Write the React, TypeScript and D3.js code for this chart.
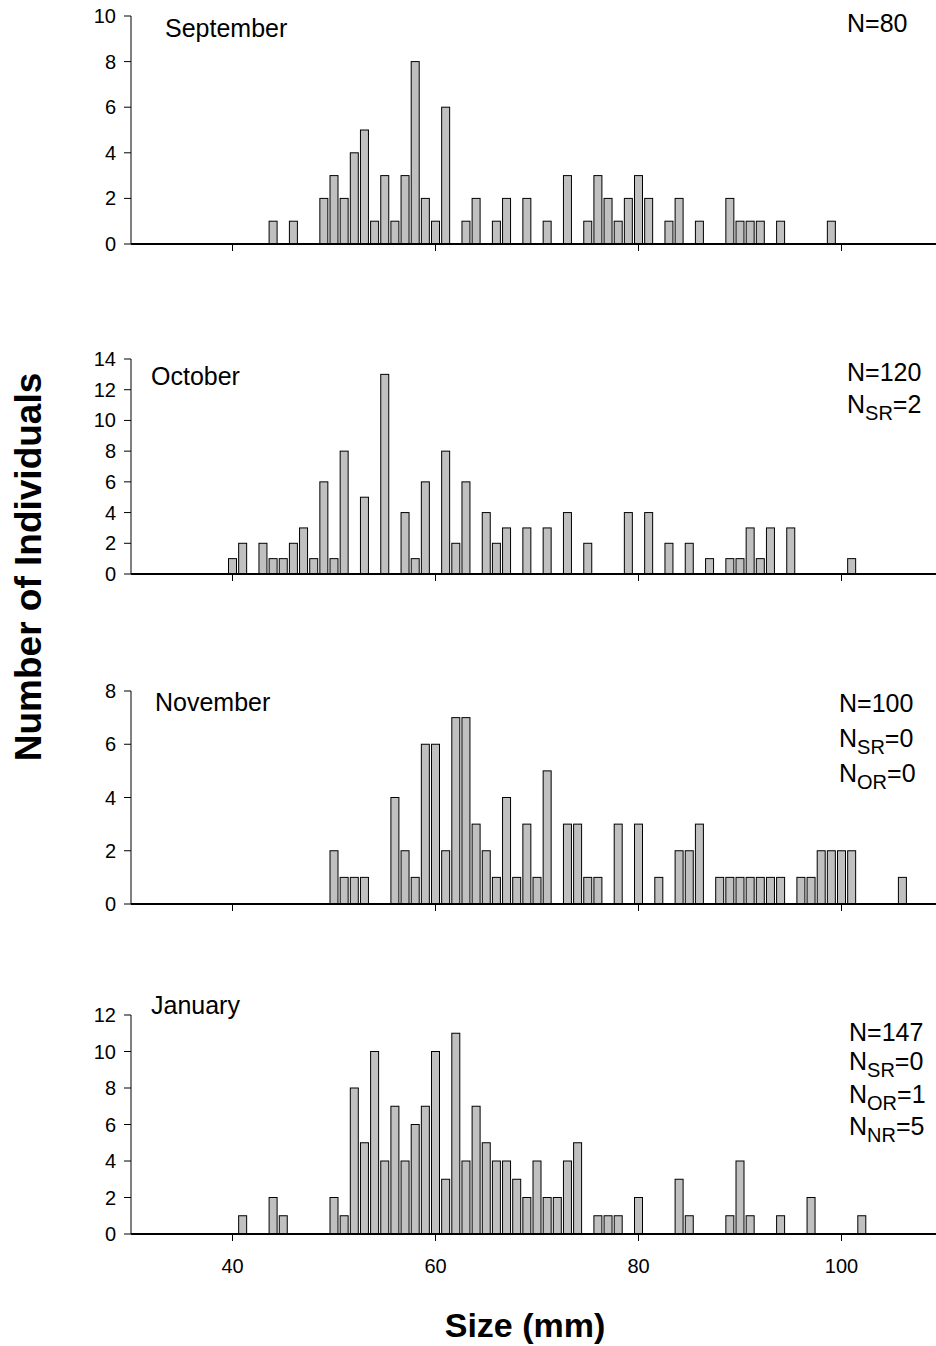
import * as d3 from 'd3'

// size classes (mm) and counts
const sepSizes = [44, 46, 49, 50, 51, 52, 53, 54, 55, 56, 57, 58, 59, 60, 61, 63, 64, 66, 67, 69, 71, 73, 75, 76, 77, 78, 79, 80, 81, 83, 84, 86, 89, 90, 91, 92, 94, 99]
const sepCounts = [1, 1, 2, 3, 2, 4, 5, 1, 3, 1, 3, 8, 2, 1, 6, 1, 2, 1, 2, 2, 1, 3, 1, 3, 2, 1, 2, 3, 2, 1, 2, 1, 2, 1, 1, 1, 1, 1]

const octSizes = [40, 41, 43, 44, 45, 46, 47, 48, 49, 50, 51, 53, 55, 57, 58, 59, 61, 62, 63, 65, 66, 67, 69, 71, 73, 75, 79, 81, 83, 85, 87, 89, 90, 91, 92, 93, 95, 101]
const octCounts = [1, 2, 2, 1, 1, 2, 3, 1, 6, 1, 8, 5, 13, 4, 1, 6, 8, 2, 6, 4, 2, 3, 3, 3, 4, 2, 4, 4, 2, 2, 1, 1, 1, 3, 1, 3, 3, 1]

const novSizes = [50, 51, 52, 53, 56, 57, 58, 59, 60, 61, 62, 63, 64, 65, 66, 67, 68, 69, 70, 71, 73, 74, 75, 76, 78, 80, 82, 84, 85, 86, 88, 89, 90, 91, 92, 93, 94, 96, 97, 98, 99, 100, 101, 106]
const novCounts = [2, 1, 1, 1, 4, 2, 1, 6, 6, 2, 7, 7, 3, 2, 1, 4, 1, 3, 1, 5, 3, 3, 1, 1, 3, 3, 1, 2, 2, 3, 1, 1, 1, 1, 1, 1, 1, 1, 1, 2, 2, 2, 2, 1]

const janSizes = [41, 44, 45, 50, 51, 52, 53, 54, 55, 56, 57, 58, 59, 60, 61, 62, 63, 64, 65, 66, 67, 68, 69, 70, 71, 72, 73, 74, 76, 77, 78, 80, 84, 85, 89, 90, 91, 94, 97, 102]
const janCounts = [1, 2, 1, 2, 1, 8, 5, 10, 4, 7, 4, 6, 7, 10, 3, 11, 4, 7, 5, 4, 4, 3, 2, 4, 2, 2, 4, 5, 1, 1, 1, 2, 3, 1, 1, 4, 1, 1, 2, 1]

const months = ['September', 'October', 'November', 'January']
const yMaxes = [10, 14, 8, 12]
const notes = [
  ['N=80'],
  ['N=120', 'N_SR=2'],
  ['N=100', 'N_SR=0', 'N_OR=0'],
  ['N=147', 'N_SR=0', 'N_OR=1', 'N_NR=5'],
]
const xTicks = [40, 60, 80, 100]

const FONT = 'Liberation Sans, Arial, Helvetica, sans-serif'
const WIDTH = 936
const HEIGHT = 1346

// pixel layout of the four stacked panels
const layout = [
  { top: 16, bottom: 244, labelY: 37, noteX: 847, noteY: [32] },
  { top: 359, bottom: 574, labelY: 385, noteX: 847, noteY: [381, 413] },
  { top: 691, bottom: 904, labelY: 711, noteX: 839, noteY: [712, 747, 782] },
  { top: 1015, bottom: 1234, labelY: 1014, noteX: 849, noteY: [1041, 1070, 1103, 1135] },
]
const labelXs = [165, 151, 155, 151]

const x = d3.scaleLinear().domain([30, 110]).range([131, 943])
const barW = 8

function Note({ text, x0, y0 }: { text: string; x0: number; y0: number }) {
  const m = text.match(/^N_(\w+)=(.*)$/)
  if (!m) {
    return <text x={x0} y={y0} fontSize={25}>{text}</text>
  }
  return (
    <text x={x0} y={y0} fontSize={25}>
      N
      <tspan fontSize={20} dy={7}>{m[1]}</tspan>
      <tspan fontSize={25} dy={-7}>={m[2]}</tspan>
    </text>
  )
}

function Panel({ i, sizes, counts }: { i: number; sizes: number[]; counts: number[] }) {
  const L = layout[i]
  const y = d3.scaleLinear().domain([0, yMaxes[i]]).range([L.bottom, L.top])
  const yTicks = d3.range(0, yMaxes[i] + 1, 2)
  const last = i === 3
  return (
    <g>
      {sizes.map((s, k) => (
        <rect
          key={k}
          x={x(s) - barW / 2}
          y={y(counts[k])}
          width={barW}
          height={y(0) - y(counts[k])}
          fill="#c0c0c0"
          stroke="#000"
          strokeWidth={1}
        />
      ))}
      {/* y axis */}
      <line x1={x(30)} x2={x(30)} y1={y(0)} y2={y(yMaxes[i])} stroke="#000" strokeWidth={1} />
      {yTicks.map(t => (
        <g key={t}>
          <line x1={x(30) - 7} x2={x(30)} y1={y(t)} y2={y(t)} stroke="#000" strokeWidth={1} />
          <text x={x(30) - 15} y={y(t)} dy="0.35em" textAnchor="end" fontSize={20}>{t}</text>
        </g>
      ))}
      {/* x axis */}
      <line x1={x(30)} x2={WIDTH} y1={y(0)} y2={y(0)} stroke="#000" strokeWidth={2} />
      {xTicks.map(t => (
        <g key={t}>
          <line x1={x(t)} x2={x(t)} y1={y(0)} y2={y(0) + 7} stroke="#000" strokeWidth={1} />
          {last && (
            <text x={x(t)} y={y(0) + 39} textAnchor="middle" fontSize={20}>{t}</text>
          )}
        </g>
      ))}
      <text x={labelXs[i]} y={L.labelY} fontSize={25}>{months[i]}</text>
      {notes[i].map((n, k) => (
        <Note key={k} text={n} x0={L.noteX} y0={L.noteY[k]} />
      ))}
    </g>
  )
}

export default function App() {
  const series = [
    [sepSizes, sepCounts],
    [octSizes, octCounts],
    [novSizes, novCounts],
    [janSizes, janCounts],
  ]
  return (
    <div style={{ position: 'absolute', left: 0, top: 0 }}>
      <svg width={WIDTH} height={HEIGHT} fontFamily={FONT} style={{ display: 'block', background: '#fff' }}>
        {series.map(([s, c], i) => (
          <Panel key={i} i={i} sizes={s} counts={c} />
        ))}
        <text
          transform="translate(41,567) rotate(-90)"
          textAnchor="middle"
          fontSize={37}
          fontWeight="bold"
        >
          Number of Individuals
        </text>
        <text x={525} y={1337} textAnchor="middle" fontSize={34} fontWeight="bold">
          Size (mm)
        </text>
      </svg>
    </div>
  )
}
